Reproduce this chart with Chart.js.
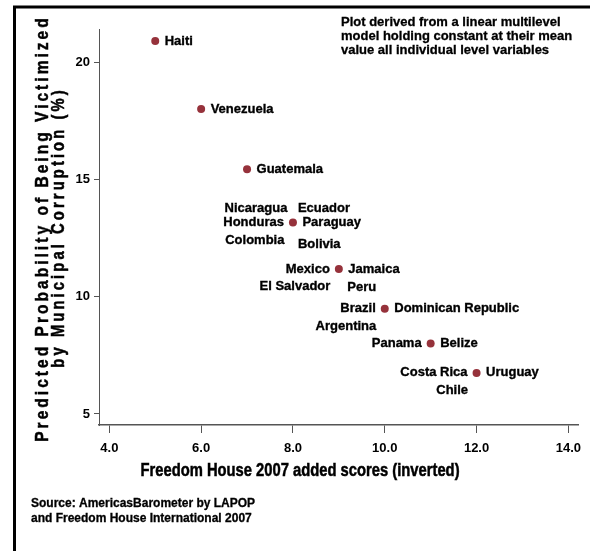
<!DOCTYPE html>
<html>
<head>
<meta charset="utf-8">
<script src="https://cdn.jsdelivr.net/npm/chart.js@4"></script>
<style>
  html, body { margin: 0; padding: 0; background: #fff; }
  canvas { display: block; }
</style>
</head>
<body>
<canvas id="chart" width="590" height="551"></canvas>
<script>
// === DATA ===
const scores = [5, 6, 7, 8, 9, 10, 11, 12];
const probs = [20.9, 18.0, 15.43, 13.16, 11.18, 9.49, 8.0, 6.75];
const countries = [
    ['Haiti'],
    ['Venezuela'],
    ['Guatemala'],
    ['Nicaragua', 'Ecuador', 'Honduras', 'Paraguay', 'Colombia', 'Bolivia'],
    ['Mexico', 'Jamaica', 'El Salvador', 'Peru'],
    ['Brazil', 'Dominican Republic', 'Argentina'],
    ['Panama', 'Belize'],
    ['Costa Rica', 'Uruguay', 'Chile']
];
const xTicks = [4, 6, 8, 10, 12, 14];
const yTicks = [5, 10, 15, 20];

// where each country label sits around its marker
const labelSpots = [
    ['e'], ['e'], ['e'],
    ['nw', 'ne', 'w', 'e', 'sw', 'sse'],
    ['w', 'e', 'sw', 'se'],
    ['w', 'e', 'sw'],
    ['w', 'e'],
    ['w', 'e', 'sw']
];
const spotOffsets = {
    e:   { dx: 9.5,  dy: 0,    align: 'left' },
    w:   { dx: -9,   dy: 0,    align: 'right' },
    nw:  { dx: -5.5, dy: -14.5, align: 'right' },
    ne:  { dx: 5,    dy: -14.5, align: 'left' },
    sw:  { dx: -8.5, dy: 17.5, align: 'right' },
    se:  { dx: 8.5,  dy: 18,   align: 'left' },
    sse: { dx: 5,    dy: 21.5, align: 'left' }
};

const FONT = '"Liberation Sans", Arial, Helvetica, sans-serif';

// fill + thin stroke to get the heavy look of the original
function heavyText(ctx, text, x, y, weight) {
    ctx.lineWidth = weight;
    ctx.strokeStyle = '#000';
    ctx.strokeText(text, x, y);
    ctx.fillText(text, x, y);
}

// bold text squeezed horizontally (narrow face look)
function narrowText(ctx, text, x, y, size, spacing, angle) {
    const squeeze = 0.82;
    ctx.save();
    ctx.translate(x, y);
    ctx.rotate(angle);
    ctx.scale(squeeze, 1);
    ctx.font = 'bold ' + size + 'px ' + FONT;
    ctx.letterSpacing = (spacing / squeeze) + 'px';
    ctx.textAlign = 'center';
    ctx.textBaseline = 'alphabetic';
    ctx.fillStyle = '#000';
    heavyText(ctx, text, spacing / squeeze / 2, 0, 0.5);
    ctx.restore();
}

const framePlugin = {
    id: 'frame',
    beforeDraw(chart) {
        const ctx = chart.ctx;
        ctx.save();
        ctx.fillStyle = '#fff';
        ctx.fillRect(0, 0, chart.width, chart.height);
        ctx.strokeStyle = '#000';
        ctx.lineWidth = 3;
        ctx.beginPath();
        ctx.moveTo(14.5, chart.height);
        ctx.lineTo(14.5, 7);
        ctx.lineTo(chart.width, 7);
        ctx.stroke();
        ctx.restore();
    }
};

const countryLabels = {
    id: 'countryLabels',
    afterDatasetsDraw(chart) {
        const ctx = chart.ctx;
        const meta = chart.getDatasetMeta(0);
        ctx.save();
        ctx.font = 'bold 13px ' + FONT;
        ctx.fillStyle = '#000';
        ctx.textBaseline = 'middle';
        meta.data.forEach((pt, i) => {
            countries[i].forEach((name, j) => {
                const o = spotOffsets[labelSpots[i][j]];
                ctx.textAlign = o.align;
                heavyText(ctx, name, pt.x + o.dx, pt.y + o.dy, 0.35);
            });
        });
        ctx.restore();
    }
};

const textPlugin = {
    id: 'texts',
    afterDraw(chart) {
        const ctx = chart.ctx;
        // axis titles
        narrowText(ctx, 'Freedom House 2007 added scores (inverted)', 300, 475.5, 18, 0, 0);
        narrowText(ctx, 'Predicted Probability of Being Victimized', 48, 230, 19, 3, -Math.PI / 2);
        narrowText(ctx, 'by Municipal Corruption (%)', 64, 229, 18, 3.1, -Math.PI / 2);

        ctx.save();
        ctx.fillStyle = '#000';
        ctx.textAlign = 'left';
        ctx.textBaseline = 'alphabetic';
        ctx.font = 'bold 13px ' + FONT;
        ['Plot derived from a linear multilevel',
         'model holding constant at their mean',
         'value all individual level variables'].forEach((line, k) => {
            heavyText(ctx, line, 341, 26 + k * 14, 0.3);
        });
        ctx.font = 'bold 12px ' + FONT;
        heavyText(ctx, 'Source: AmericasBarometer by LAPOP', 31, 507, 0.3);
        heavyText(ctx, 'and Freedom House International 2007', 31, 522, 0.3);
        ctx.restore();
    }
};

const tickFont = { family: FONT, size: 13, weight: 'bold' };

new Chart(document.getElementById('chart'), {
    type: 'scatter',
    data: {
        datasets: [{
            data: scores.map((s, i) => ({ x: s, y: probs[i] })),
            backgroundColor: '#96323b',
            borderWidth: 0,
            pointRadius: 4,
            pointHoverRadius: 4
        }]
    },
    options: {
        responsive: false,
        devicePixelRatio: 1,
        animation: false,
        layout: { padding: { left: 0, top: 29, right: 12, bottom: 0 } },
        plugins: {
            legend: { display: false },
            tooltip: { enabled: false }
        },
        scales: {
            x: {
                type: 'linear',
                min: 3.775,
                max: 14.21,
                afterBuildTicks: scale => { scale.ticks = xTicks.map(v => ({ value: v })); },
                ticks: {
                    callback: v => Number(v).toFixed(1),
                    font: tickFont,
                    color: '#000',
                    padding: 8,
                    maxRotation: 0
                },
                grid: { drawOnChartArea: false, drawTicks: true, tickLength: 8, color: '#555', lineWidth: 1 },
                border: { display: true, color: '#555', width: 1.5 },
                afterFit: scale => {
                    scale.height = 126;
                    scale.paddingLeft = 0;
                    scale.paddingRight = 0;
                }
            },
            y: {
                type: 'linear',
                min: 4.53,
                max: 21.41,
                afterBuildTicks: scale => { scale.ticks = yTicks.map(v => ({ value: v })); },
                ticks: { font: tickFont, color: '#000', padding: 4 },
                grid: { drawOnChartArea: false, drawTicks: true, tickLength: 5, color: '#555', lineWidth: 1 },
                border: { display: true, color: '#555', width: 1 },
                afterFit: scale => {
                    scale.width = 99;
                    scale.paddingTop = 0;
                    scale.paddingBottom = 0;
                }
            }
        }
    },
    plugins: [framePlugin, countryLabels, textPlugin]
});
</script>
</body>
</html>
